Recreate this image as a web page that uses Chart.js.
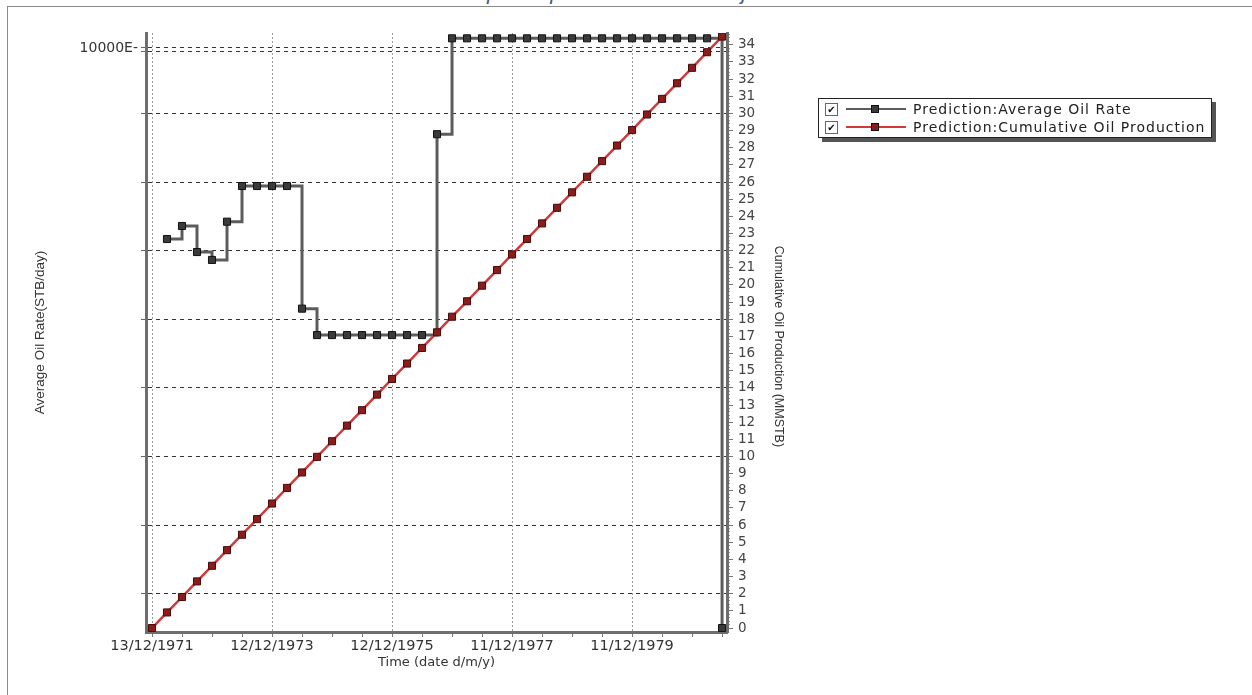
<!DOCTYPE html>
<html>
<head>
<meta charset="utf-8">
<script src="https://cdn.jsdelivr.net/npm/chart.js@4.4.1/dist/chart.umd.min.js"></script>
<style>
  html, body { margin: 0; padding: 0; background: #fff; overflow: hidden; }
  body { width: 1252px; height: 695px; position: relative; font-family: "DejaVu Sans", sans-serif; }
  #frame { position: absolute; left: 7px; top: 6px; right: -2px; bottom: -2px;
           border-left: 1px solid #8a8a8a; border-top: 1px solid #8a8a8a; }
  #doc-title { position: absolute; left: 0; top: -19px; width: 1252px; text-align: center;
               font: italic 21px "Liberation Sans", sans-serif; color: #3d5589; }
  #chart { position: absolute; left: 0; top: 0; }
  #legend { position: absolute; left: 818px; top: 98px; width: 392px; height: 38px;
            border: 1px solid #222; background: #fff; box-shadow: 4px 4px 0 #555; }
  .lg-row { position: absolute; left: 0; width: 100%; height: 18px; }
  .lg-check { position: absolute; left: 6px; top: 3px; width: 11px; height: 11px; border: 1px solid #666;
              font-size: 10px; line-height: 11px; text-align: center; color: #111; font-weight: bold; }
  .lg-line { position: absolute; left: 27px; top: 8px; width: 60px; height: 2px; }
  .lg-mark { position: absolute; left: 52px; top: 5px; width: 6px; height: 6px; border: 1px solid #111; }
  .lg-text { position: absolute; left: 94px; top: 0; font-size: 14px; letter-spacing: 1px; line-height: 18px;
             color: #222; white-space: nowrap; }
</style>
</head>
<body>
<div id="doc-title">Response plot before Gas re-injection</div>
<div id="frame"></div>
<canvas id="chart" width="1252" height="695"></canvas>
<div id="legend"></div>

<script>
/* ---- data (x = quarter index from 13/12/1971) ---- */
const quarters = [0,1,2,3,4,5,6,7,8,9,10,11,12,13,14,15,16,17,18,19,20,21,22,23,24,25,26,27,28,29,30,31,32,33,34,35,36,37,38];

const avgOilRate = [null, 22.68, 23.44, 21.92, 21.46, 23.69, 25.77, 25.77, 25.77, 25.77,
  18.62, 17.08, 17.08, 17.08, 17.08, 17.08, 17.08, 17.08, 17.08, 28.79,
  34.38, 34.38, 34.38, 34.38, 34.38, 34.38, 34.38, 34.38, 34.38, 34.38,
  34.38, 34.38, 34.38, 34.38, 34.38, 34.38, 34.38, 34.38, 0];

const cumOilProd = [0, 0.91, 1.81, 2.72, 3.63, 4.54, 5.44, 6.35, 7.26, 8.17,
  9.07, 9.98, 10.89, 11.8, 12.7, 13.61, 14.52, 15.42, 16.33, 17.24,
  18.15, 19.05, 19.96, 20.87, 21.78, 22.68, 23.59, 24.5, 25.4, 26.31,
  27.22, 28.13, 29.03, 29.94, 30.85, 31.76, 32.66, 33.57, 34.48];

const seriesNames = ['Prediction:Average Oil Rate', 'Prediction:Cumulative Oil Production'];

const xLabelTicks = [0, 8, 16, 24, 32];
const xTickLabels = ['13/12/1971', '12/12/1973', '12/12/1975', '11/12/1977', '11/12/1979'];

const leftGridTicks = [2, 6, 10, 14, 18, 22, 26, 30, 33.6, 33.82];
const leftLabelTick = 33.82;
const leftLabel = '10000E-';

const rightTicks = [0,1,2,3,4,5,6,7,8,9,10,11,12,13,14,15,16,17,18,19,20,21,22,23,24,25,26,27,28,29,30,31,32,33,34];

/* ---- helpers ---- */
const Y_MIN = -0.23, Y_MAX = 34.69;
const rateColor = '#5c5c5c', cumColor = '#d03a3a';
const axisColor = '#6e6e6e';

const minorX = [];
for (let q = 0; q <= 38; q += 2) minorX.push(q);
const minorY = [];
for (let v = 0; v <= 34.6; v += 0.2) minorY.push(Math.round(v * 10) / 10);

function setTicks(list) {
  return scale => { scale.ticks = list.map(v => ({ value: v })); };
}

/* ---- legend (html) ---- */
const legendEl = document.getElementById('legend');
[[rateColor, '#3a3a3a'], [cumColor, '#8b1c1c']].forEach((c, i) => {
  const row = document.createElement('div');
  row.className = 'lg-row';
  row.style.top = (i === 0 ? 1 : 19) + 'px';
  row.innerHTML =
    '<div class="lg-check">\u2714</div>' +
    `<div class="lg-line" style="background:${c[0]}"></div>` +
    `<div class="lg-mark" style="background:${c[1]}"></div>` +
    `<div class="lg-text">${seriesNames[i]}</div>`;
  legendEl.appendChild(row);
});

/* ---- chart ---- */
new Chart(document.getElementById('chart'), {
  type: 'line',
  data: {
    datasets: [
      {
        label: seriesNames[1],
        data: quarters.map((q, i) => ({ x: q, y: cumOilProd[i] })),
        borderColor: cumColor,
        borderWidth: 2.5,
        pointStyle: 'rect',
        pointRadius: 5,
        pointBackgroundColor: '#8b1c1c',
        pointBorderColor: '#4a0a0a',
        pointBorderWidth: 1,
        yAxisID: 'y2',
        order: 0
      },
      {
        label: seriesNames[0],
        data: quarters.map((q, i) => ({ x: q, y: avgOilRate[i] })),
        borderColor: rateColor,
        borderWidth: 3,
        stepped: true,
        pointStyle: 'rect',
        pointRadius: 5,
        pointBackgroundColor: '#3a3a3a',
        pointBorderColor: '#111',
        pointBorderWidth: 1,
        yAxisID: 'y',
        order: 1
      }
    ]
  },
  options: {
    responsive: false,
    animation: false,
    devicePixelRatio: 1,
    events: [],
    layout: { padding: { left: 0, right: 462, top: 33, bottom: 0 } },
    plugins: { legend: { display: false }, tooltip: { enabled: false } },
    scales: {
      x: {
        type: 'linear',
        min: -0.4, max: 38.33,
        afterFit: s => { s.height = 63; },
        afterBuildTicks: setTicks(minorX),
        border: { display: true, color: axisColor, width: 3, dash: [2, 2] },
        grid: {
          color: ctx => xLabelTicks.includes(ctx.tick && ctx.tick.value) ? '#9a9a9a' : 'rgba(0,0,0,0)',
          tickColor: '#777',
          tickLength: 5
        },
        ticks: {
          autoSkip: false, maxRotation: 0, padding: 1,
          color: '#333', font: { family: 'DejaVu Sans', size: 14.5 },
          callback: v => { const k = xLabelTicks.indexOf(v); return k >= 0 ? xTickLabels[k] : ''; }
        },
        title: {
          display: true, text: 'Time (date d/m/y)', color: '#333',
          font: { family: 'DejaVu Sans', size: 13 }, padding: { top: 0, bottom: 25 }
        }
      },
      y: {
        position: 'left',
        min: Y_MIN, max: Y_MAX,
        afterFit: s => { s.width = 146; },
        afterBuildTicks: setTicks(leftGridTicks),
        border: { display: true, color: axisColor, width: 3, dash: [4, 4] },
        grid: { color: '#333', tickColor: '#666', tickLength: 5 },
        ticks: {
          autoSkip: false, padding: 3, color: '#333',
          font: { family: 'DejaVu Sans', size: 14 },
          callback: v => (v === leftLabelTick ? leftLabel : '')
        },
        title: {
          display: true, text: 'Average Oil Rate(STB/day)', color: '#333',
          font: { family: 'Liberation Sans', size: 13.5 }, padding: { top: 32, bottom: 0 }
        }
      },
      y3: {
        position: 'right',
        min: Y_MIN, max: Y_MAX,
        afterFit: s => { s.width = 0; },
        afterBuildTicks: setTicks(minorY),
        border: { display: true, color: 'rgba(0,0,0,0)', width: 3 },
        grid: { drawOnChartArea: false, tickColor: '#9a9a9a', tickLength: 3 },
        ticks: { display: false }
      },
      y2: {
        position: 'right',
        min: Y_MIN, max: Y_MAX,
        afterFit: s => { s.width = 63; },
        afterBuildTicks: setTicks(rightTicks),
        border: { display: true, color: axisColor, width: 3 },
        grid: { drawOnChartArea: false, tickColor: '#777', tickLength: 6 },
        ticks: {
          autoSkip: false, padding: 5, color: '#444',
          font: { family: 'DejaVu Sans', size: 13.5 }
        },
        title: {
          display: true, text: '\u00a0\u00a0\u00a0\u00a0\u00a0\u00a0\u00a0\u00a0Cumulative Oil Production (MMSTB)', color: '#333',
          font: { family: 'Liberation Sans', size: 12.5 }, padding: { top: 4, bottom: 0 }
        }
      }
    }
  }
});
</script>
</body>
</html>
